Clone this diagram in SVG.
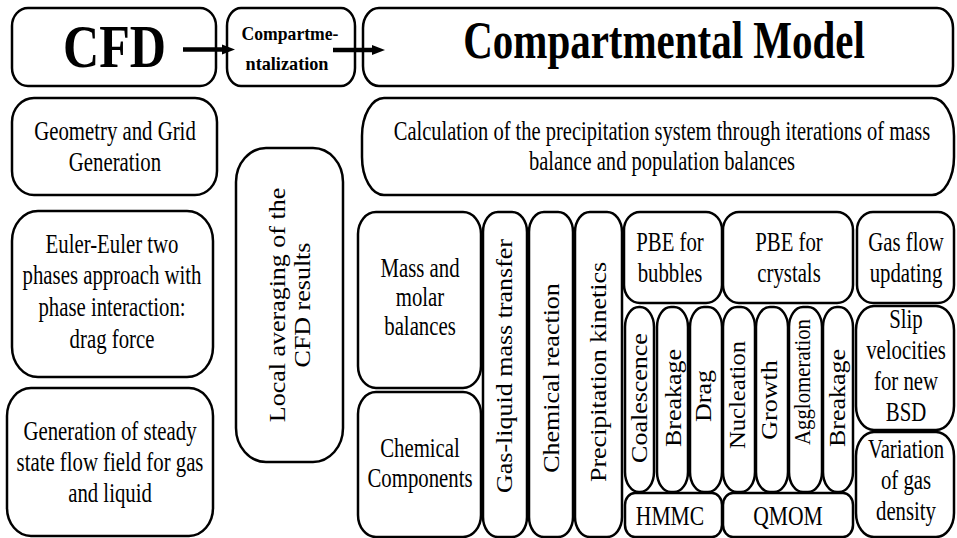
<svg xmlns="http://www.w3.org/2000/svg" width="957" height="538" viewBox="0 0 957 538">
<defs>
<style>
.box{fill:#fff;stroke:#000;stroke-width:2.5}
.t{font-family:'Liberation Serif','Times New Roman','DejaVu Serif',serif;font-size:27px;text-anchor:middle;fill:#000}
.v{font-family:'Liberation Serif','Times New Roman','DejaVu Serif',serif;font-size:26px;text-anchor:middle;fill:#000}
.b{font-family:'Liberation Serif','Times New Roman','DejaVu Serif',serif;font-weight:bold;text-anchor:middle;fill:#000}
.arr{stroke:#000;stroke-width:4.5;fill:none}
</style>
<marker id="ah" markerUnits="userSpaceOnUse" markerWidth="14" markerHeight="12" refX="0" refY="5" orient="auto" overflow="visible">
<path d="M0,0 L13,5 L0,10 Z" fill="#000"/>
</marker>
</defs>
<rect width="957" height="538" fill="#fff"/>

<g id="cfd">
<rect class="box" x="12" y="8" width="204" height="78" rx="16" ry="18"/>
<text class="b" x="114.5" y="67" font-size="62" textLength="103" lengthAdjust="spacingAndGlyphs">CFD</text>
</g>
<g id="compartmentalization">
<rect class="box" x="227" y="8" width="128" height="78" rx="14" ry="18"/>
<text class="b" x="290" y="40" font-size="19" textLength="97" lengthAdjust="spacingAndGlyphs">Compartme-</text>
<text class="b" x="287" y="70" font-size="19" textLength="83" lengthAdjust="spacingAndGlyphs">ntalization</text>
</g>
<g id="compartmental-model">
<rect class="box" x="363" y="8" width="590" height="78" rx="16" ry="20"/>
<g transform="translate(664 0) scale(0.773 1)">
<text class="b" x="0" y="58" font-size="53">Compartmental Model</text>
</g>
</g>

<g id="geometry">
<rect class="box" x="12" y="98" width="205" height="97" rx="22" ry="24"/>
<g transform="translate(115 0) scale(0.77 1)">
<text class="t" x="0" y="140">Geometry and Grid</text>
<text class="t" x="0" y="171">Generation</text>
</g>
</g>
<g id="euler">
<rect class="box" x="12" y="211" width="201" height="166" rx="26" ry="30"/>
<g transform="translate(112 0) scale(0.77 1)">
<text class="t" x="0" y="253">Euler-Euler two</text>
<text class="t" x="0" y="284">phases approach with</text>
<text class="t" x="0" y="316">phase interaction:</text>
<text class="t" x="0" y="348">drag force</text>
</g>
</g>
<g id="steady-state">
<rect class="box" x="7" y="388" width="206" height="148" rx="24" ry="28"/>
<g transform="translate(110 0) scale(0.77 1)">
<text class="t" x="0" y="440">Generation of steady</text>
<text class="t" x="0" y="471">state flow field for gas</text>
<text class="t" x="0" y="502">and liquid</text>
</g>
</g>
<g id="local-averaging">
<rect class="box" x="236" y="148" width="107" height="314" rx="30" ry="34"/>
<text class="v" transform="translate(285 305) rotate(-90) scale(1 0.88)">Local averaging of the</text>
<text class="v" transform="translate(310 305) rotate(-90) scale(1 0.88)">CFD results</text>
</g>

<g id="calculation">
<rect class="box" x="362" y="98" width="592" height="97" rx="22" ry="38"/>
<g transform="translate(662 0) scale(0.76 1)">
<text class="t" x="0" y="140">Calculation of the precipitation system through iterations of mass</text>
<text class="t" x="0" y="170">balance and population balances</text>
</g>
</g>

<g id="mass-molar">
<rect class="box" x="358" y="212" width="123" height="176" rx="18" ry="22"/>
<g transform="translate(420 0) scale(0.77 1)">
<text class="t" x="0" y="277">Mass and</text>
<text class="t" x="0" y="306">molar</text>
<text class="t" x="0" y="335">balances</text>
</g>
</g>
<g id="chemical-components">
<rect class="box" x="358" y="392" width="123" height="145" rx="18" ry="22"/>
<g transform="translate(420 0) scale(0.77 1)">
<text class="t" x="0" y="457">Chemical</text>
<text class="t" x="0" y="487">Components</text>
</g>
</g>
<g id="gas-liquid">
<rect class="box" x="483" y="212" width="44" height="325" rx="15" ry="20"/>
<text class="v" transform="translate(512 366) rotate(-90) scale(1 0.88)">Gas-liquid mass transfer</text>
</g>
<g id="chemical-reaction">
<rect class="box" x="529" y="212" width="44" height="325" rx="15" ry="20"/>
<text class="v" transform="translate(559 378) rotate(-90) scale(1 0.88)">Chemical reaction</text>
</g>
<g id="precipitation-kinetics">
<rect class="box" x="575" y="212" width="47" height="325" rx="15" ry="20"/>
<text class="v" transform="translate(606 372) rotate(-90) scale(1 0.88)">Precipitation kinetics</text>
</g>

<g id="pbe-bubbles">
<rect class="box" x="624" y="212" width="98" height="91" rx="16" ry="18"/>
<g transform="translate(670 0) scale(0.77 1)">
<text class="t" x="0" y="251">PBE for</text>
<text class="t" x="0" y="282">bubbles</text>
</g>
</g>
<g id="pbe-crystals">
<rect class="box" x="723" y="212" width="130" height="91" rx="16" ry="18"/>
<g transform="translate(789 0) scale(0.77 1)">
<text class="t" x="0" y="251">PBE for</text>
<text class="t" x="0" y="282">crystals</text>
</g>
</g>
<g id="gas-flow-updating">
<rect class="box" x="857" y="212" width="97" height="91" rx="16" ry="18"/>
<g transform="translate(906 0) scale(0.77 1)">
<text class="t" x="0" y="251">Gas flow</text>
<text class="t" x="0" y="282">updating</text>
</g>
</g>

<g id="coalescence">
<rect class="box" x="625" y="307" width="29" height="185" rx="14" ry="20"/>
<text class="v" transform="translate(647 398) rotate(-90) scale(1 0.88)">Coalescence</text>
</g>
<g id="breakage-bubbles">
<rect class="box" x="657" y="307" width="31" height="185" rx="14" ry="20"/>
<text class="v" transform="translate(681 398) rotate(-90) scale(1 0.88)">Breakage</text>
</g>
<g id="drag">
<rect class="box" x="690" y="307" width="32" height="185" rx="14" ry="20"/>
<text class="v" transform="translate(711 396) rotate(-90) scale(1 0.88)">Drag</text>
</g>
<g id="nucleation">
<rect class="box" x="723" y="307" width="32" height="185" rx="14" ry="20"/>
<text class="v" transform="translate(745 395) rotate(-90) scale(1 0.88)" textLength="108" lengthAdjust="spacingAndGlyphs">Nucleation</text>
</g>
<g id="growth">
<rect class="box" x="756" y="307" width="32" height="185" rx="14" ry="20"/>
<text class="v" transform="translate(777 400) rotate(-90) scale(1 0.88)">Growth</text>
</g>
<g id="agglomeration">
<rect class="box" x="789" y="307" width="33" height="185" rx="14" ry="20"/>
<text class="v" transform="translate(810 382) rotate(-90) scale(1 0.88)" textLength="126" lengthAdjust="spacingAndGlyphs">Agglomeration</text>
</g>
<g id="breakage-crystals">
<rect class="box" x="823" y="307" width="30" height="185" rx="14" ry="20"/>
<text class="v" transform="translate(845 398) rotate(-90) scale(1 0.88)">Breakage</text>
</g>

<g id="hmmc">
<rect class="box" x="625" y="493" width="97" height="44" rx="10" ry="12"/>
<g transform="translate(670 0) scale(0.8 1)">
<text class="t" x="0" y="525">HMMC</text>
</g>
</g>
<g id="qmom">
<rect class="box" x="723" y="493" width="130" height="44" rx="10" ry="12"/>
<g transform="translate(788 0) scale(0.8 1)">
<text class="t" x="0" y="525">QMOM</text>
</g>
</g>

<g id="slip-velocities">
<rect class="box" x="856" y="306" width="98" height="124" rx="18" ry="24"/>
<g transform="translate(906 0) scale(0.77 1)">
<text class="t" x="0" y="328">Slip</text>
<text class="t" x="0" y="359">velocities</text>
<text class="t" x="0" y="390">for new</text>
<text class="t" x="0" y="421">BSD</text>
</g>
</g>
<g id="gas-density">
<rect class="box" x="856" y="432" width="98" height="105" rx="18" ry="24"/>
<g transform="translate(906 0) scale(0.77 1)">
<text class="t" x="0" y="458">Variation</text>
<text class="t" x="0" y="489">of gas</text>
<text class="t" x="0" y="520">density</text>
</g>
</g>

<g id="connectors">
<line class="arr" x1="183" y1="49.5" x2="222" y2="49.5" marker-end="url(#ah)"/>
<line class="arr" x1="333" y1="50" x2="372" y2="50" marker-end="url(#ah)"/>
</g>
</svg>
